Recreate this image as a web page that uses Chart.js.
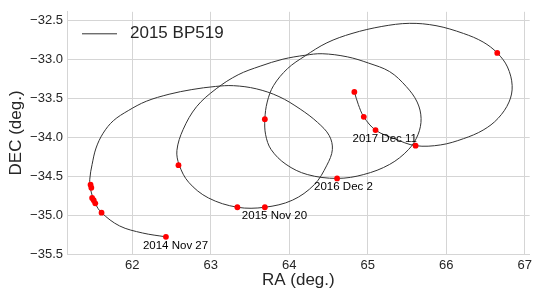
<!DOCTYPE html>
<html>
<head>
<meta charset="utf-8">
<script src="https://cdn.jsdelivr.net/npm/chart.js@4.4.1/dist/chart.umd.min.js"></script>
<style>
    html, body { margin: 0; padding: 0; background: #fff; }
    #wrap { width: 536px; height: 291px; position: relative; }
</style>
</head>
<body>
<div id="wrap"><canvas id="orbitChart"></canvas></div>
<script>
// Path of 2015 BP519 on the sky (RA / DEC, degrees)
const pathRA = [62.43, 62.13, 61.84, 61.61, 61.53, 61.47, 61.46, 61.49, 61.54, 61.63,
    61.76, 61.95, 62.18, 62.47, 62.76, 63.06, 63.29, 63.58, 63.87, 64.14, 64.36,
    64.51, 64.55, 64.48, 64.32, 64.04, 63.69, 63.34, 62.97, 62.72, 62.60,
    62.57, 62.65, 62.82, 63.07, 63.35, 63.63, 63.92, 64.20, 64.42, 64.74,
    65.01, 65.28, 65.49, 65.63, 65.68, 65.64, 65.52, 65.28, 64.95, 64.61,
    64.23, 63.96, 63.77, 63.70, 63.69, 63.72, 63.80, 63.98, 64.20, 64.48,
    64.80, 65.18, 65.53, 65.87, 66.22, 66.47, 66.65, 66.78, 66.84, 66.80,
    66.66, 66.47, 66.22, 65.93, 65.61, 65.34, 65.10, 64.95, 64.88, 64.83];
const pathDEC = [-35.28, -35.23, -35.14, -34.97, -34.85, -34.67, -34.54, -34.35, -34.14, -33.95,
    -33.79, -33.66, -33.54, -33.45, -33.39, -33.35, -33.34, -33.38, -33.48, -33.64, -33.81,
    -33.98, -34.16, -34.36, -34.61, -34.81, -34.90, -34.90, -34.78, -34.58, -34.36,
    -34.17, -33.90, -33.61, -33.38, -33.20, -33.09, -33.00, -32.95, -32.93, -32.97,
    -33.05, -33.16, -33.35, -33.55, -33.76, -33.97, -34.16, -34.35, -34.48, -34.53,
    -34.48, -34.35, -34.16, -33.97, -33.77, -33.55, -33.34, -33.12, -32.96, -32.79,
    -32.67, -32.58, -32.54, -32.57, -32.67, -32.78, -32.92, -33.10, -33.34, -33.55,
    -33.76, -33.91, -34.02, -34.10, -34.11, -34.02, -33.91, -33.74, -33.58, -33.42];

// Observation epochs (red dots)
const obsRA = [62.43, 61.61, 61.53, 61.51, 61.49, 61.48, 61.47, 62.59, 63.34, 63.69, 63.69,
    64.61, 65.61, 66.65, 65.10, 64.95, 64.83];
const obsDEC = [-35.28, -34.97, -34.85, -34.81, -34.78, -34.65, -34.61, -34.36, -34.90, -34.90, -33.77,
    -34.53, -34.11, -32.92, -33.91, -33.74, -33.42];

// Date annotations
const dateLabels = ['2014 Nov 27', '2015 Nov 20', '2016 Dec 2', '2017 Dec 11'];
const dateRA = [62.43, 63.69, 64.61, 65.10];
const dateDEC = [-35.28, -34.90, -34.53, -33.91];

// Tick values
const xTicks = [62, 63, 64, 65, 66, 67];
const yTicks = [-35.5, -35.0, -34.5, -34.0, -33.5, -33.0, -32.5];

const objectName = '2015 BP519';
const gridColor = '#d5d5d5';
const textColor = '#262626';
const fontFamily = '"Liberation Sans", Arial, sans-serif';

// Draw the date notes and the legend
const notesPlugin = {
    id: 'notes',
    afterDatasetsDraw(chart) {
        const ctx = chart.ctx;
        const xs = chart.scales.x;
        const ys = chart.scales.y;
        ctx.save();
        ctx.fillStyle = '#000';
        ctx.font = '11.5px ' + fontFamily;
        ctx.textAlign = 'left';
        ctx.textBaseline = 'middle';
        dateLabels.forEach((txt, i) => {
            const px = xs.getPixelForValue(dateRA[i]);
            const py = ys.getPixelForValue(dateDEC[i]);
            ctx.fillText(txt, px - 23, py + 8.5);
        });

        // legend
        const area = chart.chartArea;
        ctx.strokeStyle = '#333';
        ctx.lineWidth = 1;
        ctx.beginPath();
        ctx.moveTo(area.left + 15, area.top + 22);
        ctx.lineTo(area.left + 50, area.top + 22);
        ctx.stroke();
        ctx.fillStyle = textColor;
        ctx.font = '17px ' + fontFamily;
        ctx.fillText(objectName, area.left + 63, area.top + 22);
        ctx.restore();
    }
};

const ctx = document.getElementById('orbitChart').getContext('2d');
new Chart(ctx, {
    type: 'scatter',
    data: {
        datasets: [{
            label: objectName,
            data: pathRA.map((ra, i) => ({ x: ra, y: pathDEC[i] })),
            showLine: true,
            borderColor: '#333333',
            borderWidth: 1,
            pointRadius: 0,
            tension: 0.35,
            order: 2
        }, {
            label: 'obs',
            data: obsRA.map((ra, i) => ({ x: ra, y: obsDEC[i] })),
            showLine: false,
            pointRadius: 2.9,
            pointBackgroundColor: '#ff0000',
            pointBorderColor: '#ff0000',
            pointBorderWidth: 0,
            order: 1
        }]
    },
    options: {
        responsive: true,
        maintainAspectRatio: false,
        animation: false,
        layout: { padding: { top: 8, right: 1, left: 0, bottom: 0 } },
        plugins: {
            legend: { display: false },
            tooltip: { enabled: false }
        },
        scales: {
            x: {
                type: 'linear',
                min: 61.17,
                max: 67.063,
                afterBuildTicks: scale => { scale.ticks = xTicks.map(v => ({ value: v })); },
                afterFit: scale => { scale.height = 37; },
                grid: { color: gridColor, lineWidth: 1, drawTicks: false },
                border: { color: gridColor },
                ticks: {
                    color: textColor,
                    padding: 4,
                    font: { size: 13, family: fontFamily },
                    callback: v => String(v)
                },
                title: {
                    display: true,
                    text: 'RA (deg.)',
                    color: textColor,
                    font: { size: 17, family: fontFamily },
                    padding: { top: 0, bottom: 0 }
                }
            },
            y: {
                type: 'linear',
                min: -35.5,
                max: -32.392,
                afterBuildTicks: scale => { scale.ticks = yTicks.map(v => ({ value: v })); },
                afterFit: scale => { scale.width = 67; },
                grid: { color: gridColor, lineWidth: 1, drawTicks: false },
                border: { color: gridColor },
                ticks: {
                    color: textColor,
                    padding: 4,
                    font: { size: 13, family: fontFamily },
                    callback: v => v.toFixed(1).replace('-', '\u2212')
                },
                title: {
                    display: true,
                    text: 'DEC (deg.)',
                    color: textColor,
                    font: { size: 17, family: fontFamily },
                    padding: { top: 6, bottom: 0 }
                }
            }
        }
    },
    plugins: [notesPlugin]
});
</script>
</body>
</html>
